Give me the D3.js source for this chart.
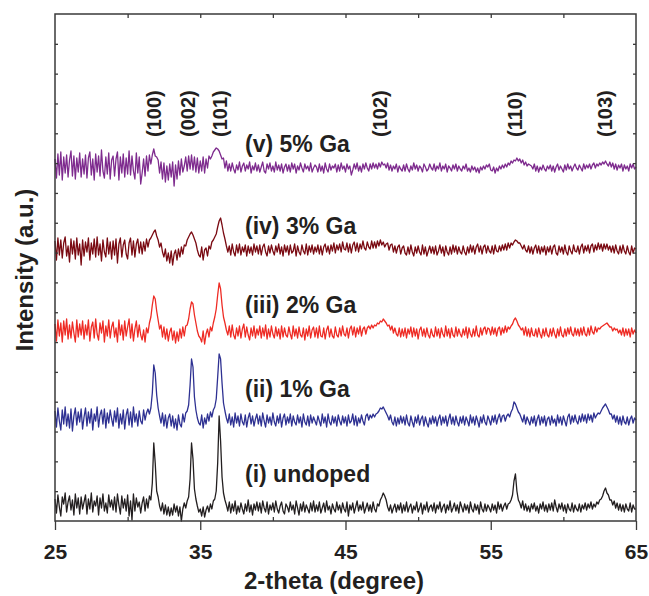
<!DOCTYPE html>
<html>
<head>
<meta charset="utf-8">
<script src="https://cdn.jsdelivr.net/npm/d3@7"></script>
<style>
  body { margin: 0; background: #fff; }
  text { font-family: "Liberation Sans", Arial, sans-serif; font-weight: bold; fill: #231f20; }
</style>
</head>
<body>
<div id="my_graphic"></div>
<script>
// 2-theta grid of the scan: 25..65 deg, 0.1 deg step
const angleStart = 25, angleStep = 0.1;
const xTicks = [25, 35, 45, 55, 65];
const xMinor = [30, 40, 50, 60];

// intensities (a.u.), one value per 0.1 deg
const undoped = [
  22,8,26,14,5,24,17,28,9,19,25,11,21,6,27,13,23,7,24,12,
  19,26,7,22,12,28,9,20,15,25,6,23,13,27,10,18,8,26,14,21,
  11,24,9,27,16,7,25,13,22,10,26,5,20,1,27,10,23,14,19,8,
  18,24,10,22,13,25,21,38,78,58,30,24,15,10,18,7,16,6,14,5,
  13,6,17,9,15,5,14,0,12,18,13,20,24,42,78,62,32,22,15,9,
  12,5,14,4,11,15,9,17,12,20,22,30,58,105,80,44,28,21,16,10,
  19,8,17,10,20,7,15,9,18,12,7,17,10,21,9,16,6,17,11,19,
  10,18,8,20,13,9,19,7,16,11,18,9,20,12,8,15,19,10,7,17,
  14,9,19,11,16,7,20,13,6,17,10,19,9,16,12,8,18,10,20,9,
  16,10,19,8,13,18,9,20,11,15,7,17,12,9,19,11,16,8,18,12,
  9,19,5,16,11,18,8,14,20,10,16,11,19,8,13,18,10,16,9,19,
  12,9,17,15,21,24,28,25,21,14,10,16,8,13,17,9,16,11,18,8,
  16,10,19,9,14,17,8,15,11,19,9,13,18,7,16,11,19,9,14,16,
  10,18,8,16,12,19,9,14,17,8,16,11,20,9,13,18,10,16,8,19,
  14,9,17,11,16,8,19,12,9,17,11,16,7,19,12,9,17,10,16,13,
  9,17,11,16,8,19,12,17,10,15,18,12,17,18,21,26,40,47,30,21,
  18,13,20,11,17,10,15,9,17,12,18,10,15,8,17,12,19,10,16,9,
  17,11,18,10,21,14,9,17,12,18,10,16,8,17,12,10,18,9,16,12,
  10,17,9,16,12,18,11,17,13,19,12,17,14,19,17,21,22,25,30,33,
  28,26,21,21,16,20,13,18,11,17,10,16,9,17,12,10,18,9,16,12,
  12
];
const ga1 = [
  24,8,27,14,5,25,11,28,9,21,7,26,4,19,27,10,23,13,26,6,
  18,27,9,23,12,26,5,21,14,28,8,20,25,11,26,7,22,12,25,16,
  9,24,13,27,7,21,11,25,6,20,26,10,23,8,28,13,21,9,24,14,
  11,25,15,22,26,21,27,42,70,62,40,27,19,12,22,9,20,7,17,21,
  9,19,7,16,5,20,11,8,21,13,22,24,30,50,76,68,38,25,17,12,
  10,20,7,17,11,21,14,23,18,25,28,36,58,81,76,52,32,24,17,12,
  21,10,18,8,22,12,19,9,21,13,10,20,8,17,22,11,19,9,16,21,
  11,19,9,22,14,8,20,12,18,10,22,13,9,19,12,21,8,17,21,10,
  18,12,21,9,19,13,10,20,12,18,8,21,13,10,19,9,20,12,18,14,
  10,19,14,9,21,12,18,8,21,13,10,19,12,18,9,20,14,10,19,12,
  18,9,20,12,14,21,10,19,9,17,12,20,14,10,19,21,15,20,17,21,
  18,21,22,24,27,26,28,25,22,19,15,20,13,10,18,9,17,11,19,12,
  18,10,20,12,9,19,13,8,18,12,20,10,16,19,9,18,12,8,17,11,
  19,12,18,9,16,20,10,18,12,19,9,16,21,11,18,10,19,13,9,18,
  12,19,10,18,14,9,20,12,18,10,19,14,8,18,12,20,13,10,19,15,
  10,19,13,20,11,17,21,13,19,20,14,19,21,18,23,26,33,31,27,23,
  21,17,13,20,11,18,14,10,18,12,19,9,16,20,10,18,12,19,9,16,
  18,10,19,12,16,9,20,12,18,10,19,14,9,18,21,11,19,13,20,14,
  11,19,13,21,14,20,12,21,15,20,13,22,17,20,22,21,24,27,29,31,
  28,25,21,21,16,20,13,19,11,18,10,19,13,11,18,10,16,19,12,17,
  15
];
const ga2 = [
  23,6,27,11,24,5,26,12,28,8,22,9,25,14,5,27,10,23,12,26,
  8,22,12,27,6,20,25,9,28,13,7,24,14,26,5,21,11,27,9,20,
  25,10,19,5,27,12,22,7,26,11,20,28,9,23,6,18,26,10,22,12,
  7,17,5,19,14,24,30,42,51,48,36,27,18,22,10,20,8,18,6,15,
  19,7,16,4,15,6,18,9,20,11,21,22,28,38,45,43,32,24,16,11,
  9,5,16,3,13,18,10,20,16,24,30,38,52,64,58,42,30,24,17,12,
  21,10,22,12,8,19,11,21,9,18,23,10,20,12,7,19,11,21,9,18,
  12,21,9,19,11,22,8,18,10,21,13,9,20,11,18,8,21,10,19,12,
  10,20,13,8,21,11,18,9,20,12,10,19,7,18,11,21,9,17,20,10,
  19,9,21,11,10,19,8,17,21,10,18,11,9,20,12,10,19,11,21,13,
  11,19,9,18,21,12,20,10,19,13,21,11,18,20,13,19,21,18,22,19,
  22,21,24,23,26,25,28,26,24,21,22,17,21,14,19,13,11,19,10,18,
  11,19,9,18,13,20,10,19,11,18,8,17,20,11,18,10,19,12,9,18,
  12,10,20,11,18,9,19,13,10,21,11,18,9,19,12,10,20,11,18,13,
  10,18,12,20,9,19,13,10,18,11,21,12,10,19,12,18,20,13,19,18,
  12,20,13,19,11,18,20,12,19,14,21,15,20,18,21,23,27,29,26,22,
  20,17,19,12,20,11,18,10,19,12,11,18,10,19,13,9,18,11,19,12,
  10,18,11,19,13,9,18,11,20,12,10,18,11,19,13,20,13,11,19,12,
  18,11,19,12,20,13,11,19,12,21,15,13,20,15,19,18,20,21,22,23,
  24,22,20,20,16,19,17,18,14,17,12,19,11,18,12,18,10,19,13,17,
  14
];
const ga3 = [
  24,5,27,10,25,7,22,28,9,19,3,26,11,24,6,27,10,21,0,25,
  9,23,13,27,5,22,11,26,8,28,10,21,4,25,13,8,27,11,23,6,
  24,10,26,2,21,27,8,20,25,11,6,22,27,10,24,8,21,26,12,23,
  11,23,14,26,18,25,27,30,33,35,29,25,18,22,13,8,16,4,12,2,
  14,0,11,15,5,16,8,18,11,20,19,25,28,31,33,30,26,22,15,10,
  8,18,5,15,17,9,19,16,23,25,28,31,38,44,47,40,32,26,19,13,
  19,10,21,13,9,20,12,21,10,18,13,20,9,19,12,18,10,21,13,19,
  11,20,10,18,21,13,9,19,12,20,14,10,19,13,21,11,18,9,20,13,
  19,10,20,12,14,21,9,19,13,10,20,14,11,21,10,19,13,20,11,18,
  13,20,11,19,10,18,21,13,19,11,20,14,22,12,20,15,21,13,23,16,
  15,22,13,21,12,20,23,14,22,13,21,16,24,17,15,23,18,16,24,17,
  23,17,24,19,25,20,23,18,21,22,15,20,21,13,19,12,18,20,11,17,
  19,12,10,18,11,20,13,9,18,12,19,13,10,20,11,18,9,14,19,12,
  18,11,19,10,14,20,12,18,9,19,13,10,18,11,20,13,19,11,18,13,
  11,19,13,10,18,12,20,13,19,11,18,21,13,19,11,18,20,12,19,14,
  12,19,11,20,14,13,19,14,20,15,21,15,22,17,22,20,23,25,24,22,
  22,19,16,20,15,13,19,12,18,11,17,20,12,19,11,18,13,19,10,18,
  13,19,11,18,20,12,10,19,13,18,11,20,13,10,19,14,11,20,14,13,
  19,11,18,21,12,19,14,20,12,19,21,13,20,15,22,16,21,14,21,16,
  21,15,19,13,19,12,20,14,11,19,12,20,14,11,19,13,10,19,12,17,
  16
];
const ga5 = [
  24,5,29,8,31,3,26,10,28,6,23,32,7,27,4,25,11,30,6,24,
  9,28,5,25,31,8,24,3,29,11,27,7,33,12,5,26,9,30,4,23,
  27,7,24,31,3,26,10,29,6,25,9,32,8,27,12,4,30,10,26,-1,
  10,24,7,27,12,28,19,28,34,27,26,23,10,21,4,20,1,17,3,19,
  6,21,-3,18,4,22,8,24,11,17,26,12,27,14,28,13,26,11,25,10,
  22,12,26,10,24,15,27,24,27,31,33,35,34,32,28,24,25,15,22,12,
  19,12,20,14,10,18,13,21,11,17,20,12,18,14,21,10,17,13,20,12,
  18,11,16,21,12,10,19,14,20,12,17,11,21,13,18,12,19,10,16,19,
  12,18,11,20,14,19,10,17,13,20,15,11,19,14,17,12,20,11,15,18,
  16,11,19,12,17,10,20,14,11,19,13,17,15,19,11,18,12,20,14,17,
  11,19,14,17,8,13,19,14,20,12,17,11,19,14,20,15,12,19,14,20,
  15,19,14,20,16,21,18,19,15,20,13,18,12,17,14,19,11,17,14,12,
  18,12,19,14,11,17,13,20,14,18,12,17,15,11,19,16,12,14,19,15,
  13,19,12,17,14,20,12,17,14,19,11,17,15,12,18,14,19,12,17,14,
  12,17,14,19,12,15,11,17,13,16,11,15,10,16,13,17,14,18,16,19,
  13,12,16,10,15,12,17,14,18,15,19,16,20,18,22,20,23,22,25,22,
  24,20,23,18,21,17,19,18,17,14,19,12,17,11,16,13,18,14,12,17,
  14,18,12,17,11,16,19,13,17,14,11,18,13,19,14,17,12,16,19,15,
  13,18,15,12,19,14,18,15,19,14,18,20,15,19,17,20,18,21,19,22,
  19,17,21,16,20,14,19,13,18,15,19,12,18,14,17,12,19,15,19,14,
  16
];

const seriesNames = ["(i) undoped", "(ii) 1% Ga", "(iii) 2% Ga", "(iv) 3% Ga", "(v) 5% Ga"];
const seriesOffsets = [0, 86, 174, 256, 338];   // vertical stacking of the patterns
const hklLabels = ["(100)", "(002)", "(101)", "(102)", "(110)", "(103)"];
const hklAngles = [31.85, 34.15, 36.35, 47.4, 56.7, 62.9];

draw_plot();

function draw_plot() {
    const margin = {top: 14, right: 13, bottom: 75, left: 55},
        width = 649 - margin.left - margin.right,
        height = 596 - margin.top - margin.bottom;

    const svg = d3.select("#my_graphic")
        .append("svg")
        .attr("width", 649)
        .attr("height", 596)
        .append("g")
        .attr("transform", `translate(${margin.left},${margin.top})`);

    const x = d3.scaleLinear().domain([25, 65]).range([0, width]);
    const y = d3.scaleLinear().domain([0, height]).range([height, 0]);
    // 17 equal intervals for the unlabeled intensity ticks
    const yGrid = d3.scaleLinear().domain([0, 17]).range([0, height]);

    const colors = ["#231f20", "#2e3192", "#ee2b24", "#7a0a12", "#7e2b8e"];
    const patterns = [undoped, ga1, ga2, ga3, ga5];

    const line = off => d3.line()
        .x((d, i) => x(angleStart + i * angleStep))
        .y(d => y(d + off));

    svg.selectAll(".trace")
        .data(patterns)
        .join("path")
        .attr("class", "trace")
        .attr("fill", "none")
        .attr("stroke", (d, i) => colors[i])
        .attr("stroke-width", 1.3)
        .attr("stroke-linejoin", "round")
        .attr("d", (d, i) => line(seriesOffsets[i])(d));

    // frame
    svg.append("rect")
        .attr("width", width).attr("height", height)
        .attr("fill", "none").attr("stroke", "#3a3a3a").attr("stroke-width", 1.5);

    const styleTicks = g => g.call(g => g.select(".domain").remove())
        .call(g => g.selectAll(".tick line").attr("stroke", "#3a3a3a").attr("stroke-width", 1.3));

    // bottom axis, labelled
    svg.append("g")
        .attr("transform", `translate(0,${height})`)
        .call(d3.axisBottom(x).tickValues(xTicks).tickSize(9).tickPadding(14).tickFormat(d3.format("d")))
        .call(styleTicks)
        .call(g => g.selectAll(".tick text").style("font-size", "21px")
            .style("font-family", "'Liberation Sans', Arial, sans-serif").style("font-weight", "bold")
            .attr("fill", "#231f20"));

    svg.append("g")
        .attr("transform", `translate(0,${height})`)
        .call(d3.axisTop(x).tickValues(xMinor).tickSize(4).tickFormat(""))
        .call(styleTicks);

    svg.append("g")
        .call(d3.axisBottom(x).tickValues(d3.range(30, 65, 5)).tickSize(4).tickFormat(""))
        .call(styleTicks);

    svg.append("g")
        .call(d3.axisRight(yGrid).tickValues(d3.range(1, 17)).tickSize(3).tickFormat(""))
        .call(styleTicks);

    svg.append("g")
        .attr("transform", `translate(${width},0)`)
        .call(d3.axisLeft(yGrid).tickValues(d3.range(1, 17)).tickSize(3).tickFormat(""))
        .call(styleTicks);

    // hkl reflections
    svg.selectAll(".hkl")
        .data(hklLabels)
        .join("text")
        .attr("class", "hkl")
        .attr("transform", (d, i) => `translate(${x(hklAngles[i]) + 7},123) rotate(-90)`)
        .style("font-size", "20px")
        .text(d => d);

    // series names
    const labelY = [468, 383, 299, 220, 138];
    svg.selectAll(".series-label")
        .data(seriesNames)
        .join("text")
        .attr("class", "series-label")
        .attr("x", 190)
        .attr("y", (d, i) => labelY[i])
        .style("font-size", "23px")
        .text(d => d);

    svg.append("text")
        .attr("x", 279).attr("y", 575)
        .attr("text-anchor", "middle")
        .style("font-size", "24px")
        .text("2-theta (degree)");

    svg.append("text")
        .attr("transform", `translate(-22,256) rotate(-90)`)
        .attr("text-anchor", "middle")
        .style("font-size", "24px")
        .text("Intensity (a.u.)");
}
</script>
</body>
</html>
